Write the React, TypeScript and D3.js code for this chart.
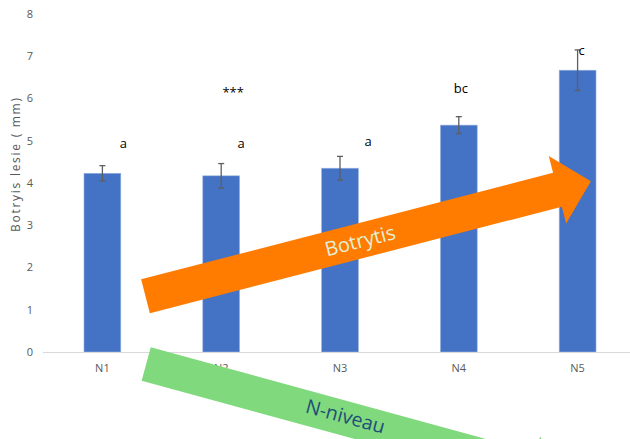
import React from "react";
import * as d3 from "d3";

// N-level treatments and mean Botrytis lesion size (mm) with error margins
const categories = ["N1", "N2", "N3", "N4", "N5"];
const lesion = [4.23, 4.17, 4.35, 5.37, 6.67];
const errorMargin = [0.18, 0.29, 0.28, 0.2, 0.48];
const groupLetters = ["a", "a", "a", "bc", "c"];
const yTicks = [0, 1, 2, 3, 4, 5, 6, 7, 8];
const yTitle = "Botryis lesie ( mm)";
const significance = "***";
const trendUp = "Botrytis";
const trendDown = "N-niveau";

const W = 630;
const H = 439;
const FONT = "'Open Sans', 'Noto Sans', sans-serif";

// Letter placement relative to each bar centre (px)
const letterOffsets: [number, number][] = [
  [21, 143],
  [20, 143],
  [28, 141],
  [2, 88],
  [4, 50],
];

function arrowPath(len: number, shaftHalf: number, headHalf: number, headLen: number) {
  const hb = len - headLen;
  return [
    [0, -shaftHalf],
    [hb, -shaftHalf],
    [hb, -headHalf],
    [len, 0],
    [hb, headHalf],
    [hb, shaftHalf],
    [0, shaftHalf],
  ]
    .map((p, i) => (i === 0 ? "M" : "L") + p[0] + "," + p[1])
    .join("") + "Z";
}

export default function App() {
  const x = d3
    .scaleBand<string>()
    .domain(categories)
    .range([43, 637])
    .paddingInner(0.69)
    .paddingOuter(0.345);
  const y = d3.scaleLinear().domain([0, 8]).range([352, 14]);
  const bw = x.bandwidth();

  return (
    <svg
      width={W}
      height={H}
      viewBox={`0 0 ${W} ${H}`}
      style={{ position: "absolute", left: 0, top: 0, display: "block", background: "#fff" }}
    >
      {/* y tick labels */}
      {yTicks.map((t) => (
        <text
          key={t}
          x={33}
          y={y(t)}
          dy="0.35em"
          textAnchor="end"
          fontFamily={FONT}
          fontSize={11}
          fill="#595959"
        >
          {t}
        </text>
      ))}
      <text
        transform="translate(16,165) rotate(-90)"
        textAnchor="middle"
        dy="0.35em"
        fontFamily={FONT}
        fontSize={12}
        textLength={134}
        lengthAdjust="spacing"
        fill="#595959"
      >
        {yTitle}
      </text>

      {/* bars */}
      {categories.map((c, i) => (
        <rect
          key={c}
          x={x(c)!}
          y={y(lesion[i])}
          width={bw}
          height={y(0) - y(lesion[i])}
          fill="#4472C4"
          stroke="#9DB5E2"
          strokeWidth={0.6}
        />
      ))}

      {/* baseline */}
      <line x1={43} x2={W} y1={y(0) + 0.5} y2={y(0) + 0.5} stroke="#D9D9D9" strokeWidth={1} />

      {/* error bars */}
      {categories.map((c, i) => {
        const cx = x(c)! + bw / 2;
        const hi = y(lesion[i] + errorMargin[i]);
        const lo = y(lesion[i] - errorMargin[i]);
        return (
          <g key={c} stroke="#5f5f5f" strokeWidth={1.3}>
            <line x1={cx} x2={cx} y1={hi} y2={lo} />
            <line x1={cx - 3} x2={cx + 3} y1={hi} y2={hi} />
            <line x1={cx - 3} x2={cx + 3} y1={lo} y2={lo} />
          </g>
        );
      })}

      {/* category labels */}
      {categories.map((c) => (
        <text
          key={c}
          x={x(c)! + bw / 2}
          y={368}
          dy="0.35em"
          textAnchor="middle"
          fontFamily={FONT}
          fontSize={11}
          fill="#595959"
        >
          {c}
        </text>
      ))}

      {/* group letters */}
      {categories.map((c, i) => (
        <text
          key={c}
          x={x(c)! + bw / 2 + letterOffsets[i][0]}
          y={letterOffsets[i][1]}
          dy="0.35em"
          textAnchor="middle"
          fontFamily={FONT}
          fontSize={13}
          fill="#000"
        >
          {groupLetters[i]}
        </text>
      ))}
      <text
        x={x("N2")! + bw / 2 + 12}
        y={92}
        dy="0.35em"
        textAnchor="middle"
        fontFamily={FONT}
        fontSize={13}
        fill="#000"
      >
        {significance}
      </text>

      {/* rising Botrytis arrow */}
      <g transform="translate(145.5,296.3) rotate(-14.5)">
        <path d={arrowPath(460, 17.5, 34.8, 34.5)} fill="#FF7C00" />
        <text
          x={221.6}
          y={0}
          dy="0.35em"
          textAnchor="middle"
          fontFamily={FONT}
          fontSize={20}
          fill="#E2F0D9"
        >
          {trendUp}
        </text>
      </g>

      {/* falling N-niveau arrow */}
      <g transform="translate(146.2,364) rotate(15.3)">
        <path d={arrowPath(434, 17.3, 34, 35)} fill="#80D97D" />
        <text
          x={206}
          y={-2}
          dy="0.35em"
          textAnchor="middle"
          fontFamily={FONT}
          fontSize={19.5}
          fill="#1F4E79"
        >
          {trendDown}
        </text>
      </g>
    </svg>
  );
}
